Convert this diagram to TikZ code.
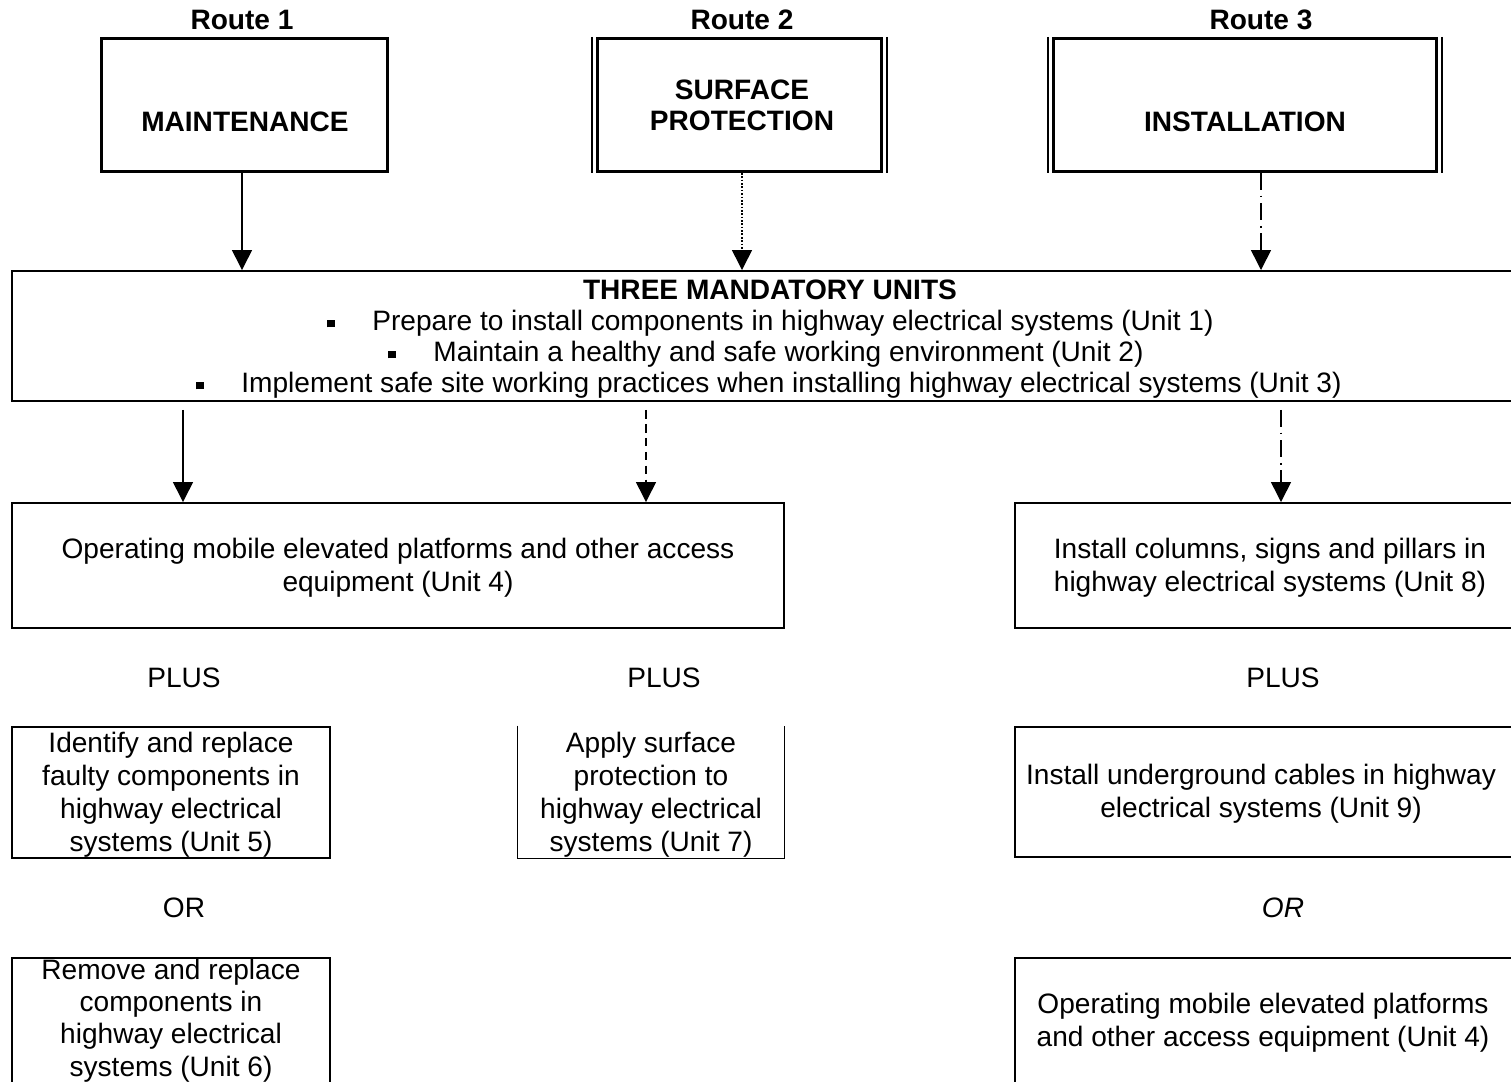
\documentclass[tikz,border=0pt]{standalone}
\usepackage{fontspec}
\setmainfont{Liberation Sans}
\usetikzlibrary{arrows.meta}
\newdimen\px \px=0.41667pt
\newcommand{\bul}{\raisebox{1.5pt}{\rule{3.1pt}{3.1pt}}\hspace{15.6pt}}
\begin{document}
\begin{tikzpicture}[x=\px,y=-\px,
  txt/.style={font=\fontsize{11.7}{13.75}\selectfont, align=center, inner sep=0pt},
  btxt/.style={font=\fontsize{11.7}{13.75}\selectfont\bfseries, align=center, inner sep=0pt},
  box/.style={draw, line width=0.8pt, inner sep=0pt},
  rbox/.style={draw, line width=1.25pt, inner sep=0pt, minimum height=133\px},
  thin/.style={line width=0.5pt},
  arr/.style={line width=0.6pt, -{Triangle[width=8.3pt,length=8.3pt]}},
  dotline/.style={dash pattern=on 0.7pt off 0.7pt},
  dashline/.style={dash pattern=on 3.6pt off 2.2pt},
  dashdot/.style={dash pattern=on 7pt off 2.4pt on 0.8pt off 2.4pt},
]
\useasboundingbox (0,0) rectangle (1511,1082);

% Route labels
\node[btxt] (l1) at (242,20) {Route 1};
\node[btxt] (l2) at (742,20) {Route 2};
\node[btxt] (l3) at (1261,20) {Route 3};

% Route boxes
\node[rbox, minimum width=286\px] (r1) at (244.5,105) {};
\node[btxt] (t1) at (245,122) {MAINTENANCE};
\node[rbox, minimum width=284\px] (r2) at (739.5,105) {};
\draw[thin] ([xshift=-4\px]r2.north west) -- ([xshift=-4\px]r2.south west);
\draw[thin] ([xshift=4\px]r2.north east) -- ([xshift=4\px]r2.south east);
\node[btxt, font=\fontsize{11.7}{12.9}\selectfont\bfseries] (t2) at (742,105.5) {SURFACE\\PROTECTION};
\node[rbox, minimum width=383\px] (r3) at (1245,105) {};
\draw[thin] ([xshift=-4\px]r3.north west) -- ([xshift=-4\px]r3.south west);
\draw[thin] ([xshift=4\px]r3.north east) -- ([xshift=4\px]r3.south east);
\node[btxt] (t3) at (1245,122) {INSTALLATION};

% Mandatory units box
\node[box, minimum width=1503\px, minimum height=130\px] (mand) at (763.5,336) {};
\node[btxt] (mt) at (770,290) {THREE MANDATORY UNITS};
\node[txt, anchor=base west] (b1) at (327,331) {\bul Prepare to install components in highway electrical systems (Unit 1)};
\node[txt, anchor=base west] (b2) at (388,362) {\bul Maintain a healthy and safe working environment (Unit 2)};
\node[txt, anchor=base west] (b3) at (196,393) {\bul Implement safe site working practices when installing highway electrical systems (Unit 3)};

% Arrows from routes
\coordinate (a1) at (242,0);
\coordinate (a2) at (742,0);
\coordinate (a3) at (1261,0);
\draw[arr] (r1.south -| a1) -- (mand.north -| a1);
\draw[arr, dotline] (r2.south -| a2) -- (mand.north -| a2);
\draw[arr, dashdot] (r3.south -| a3) -- (mand.north -| a3);

% Unit 4 and Unit 8
\node[box, minimum width=772\px, minimum height=125\px] (u4) at (398,565.5) {};
\node[txt] (u4t) at (398,567.5) {Operating mobile elevated platforms and other access\\equipment (Unit 4)};
\node[box, minimum width=500\px, minimum height=125\px] (u8) at (1265,565.5) {};
\node[txt] (u8t) at (1270,567.5) {Install columns, signs and pillars in\\highway electrical systems (Unit 8)};

% Lower arrows
\coordinate (s1) at (183,410);
\coordinate (s2) at (646,410);
\coordinate (s3) at (1281,410);
\draw[arr] (s1) -- (s1 |- u4.north);
\draw[arr, dashline] (s2) -- (s2 |- u4.north);
\draw[arr, dashdot] (s3) -- (s3 |- u8.north);

% PLUS
\node[txt] (p1) at (184,678) {PLUS};
\node[txt] (p2) at (664,678) {PLUS};
\node[txt] (p3) at (1283,678) {PLUS};

% Units 5, 7, 9
\node[box, minimum width=318\px, minimum height=131\px] (u5) at (171,792.5) {};
\node[txt] (u5t) at (171,795) {Identify and replace\\faulty components in\\highway electrical\\systems (Unit 5)};
\node[minimum width=266\px, minimum height=132\px, inner sep=0pt] (u7) at (651,792) {};
\draw[line width=0.8pt] (u7.north west) -- (u7.south west) -- (u7.south east) -- (u7.north east);
\node[txt] (u7t) at (651,795) {Apply surface\\protection to\\highway electrical\\systems (Unit 7)};
\node[box, minimum width=500\px, minimum height=130\px] (u9) at (1265,792) {};
\node[txt] (u9t) at (1261,794) {Install underground cables in highway\\electrical systems (Unit 9)};

% OR
\node[txt] (o1) at (184,908) {OR};
\node[txt, font=\fontsize{11.7}{13.75}\selectfont\itshape] (o2) at (1283,908) {OR};

% Units 6 and 4 (route 3)
\node[box, minimum width=318\px, minimum height=126\px] (u6) at (171,1021) {};
\node[txt, font=\fontsize{11.7}{13.5}\selectfont] (u6t) at (171,1020.5) {Remove and replace\\components in\\highway electrical\\systems (Unit 6)};
\node[box, minimum width=500\px, minimum height=126\px] (u10) at (1265,1021) {};
\node[txt] (u10t) at (1263,1023) {Operating mobile elevated platforms\\and other access equipment (Unit 4)};
\end{tikzpicture}
\end{document}
